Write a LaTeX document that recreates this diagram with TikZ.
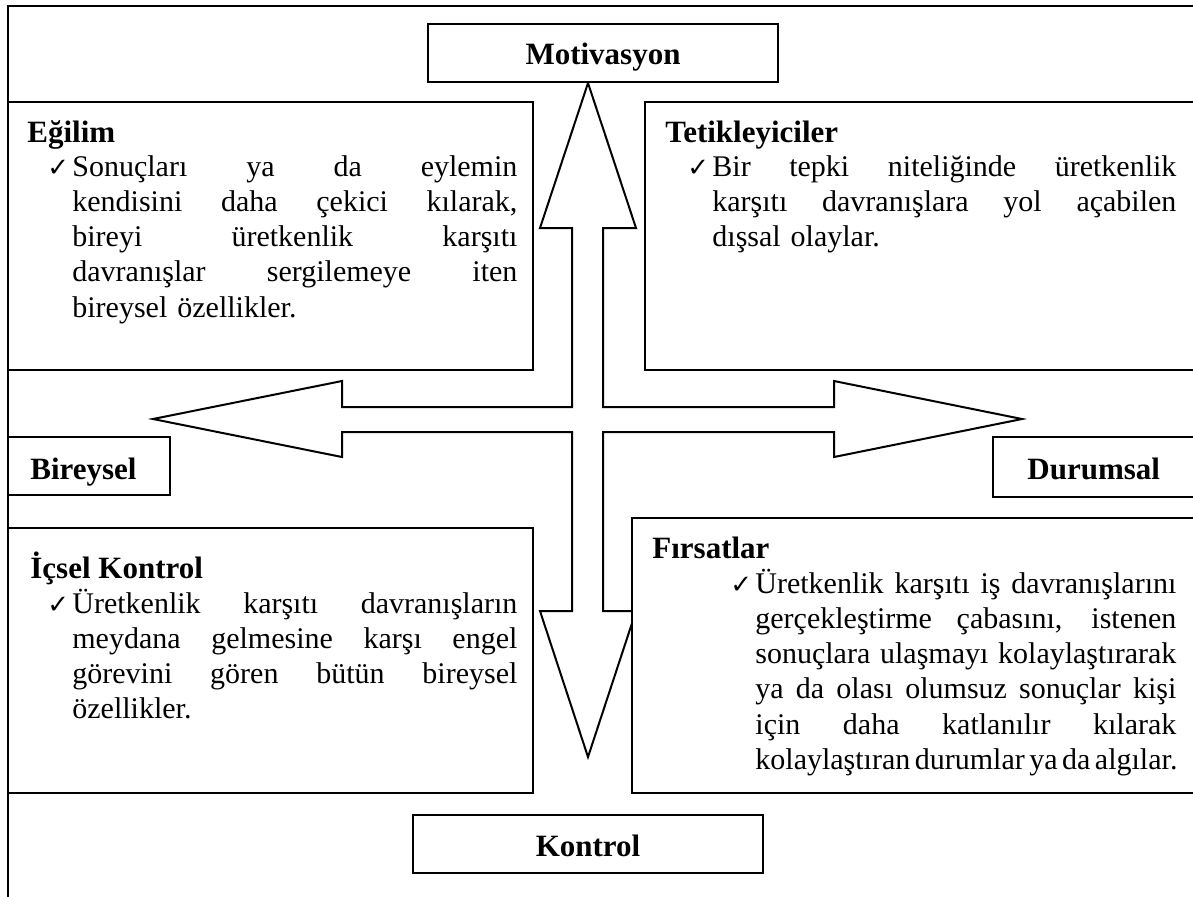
\documentclass[tikz,border=0pt]{standalone}
\usepackage{fontspec}
\setmainfont{Liberation Serif}
\newfontfamily\symfont{DejaVu Sans}
\newcommand{\ck}{\leavevmode\llap{\makebox[12.5pt][l]{\symfont\fontsize{13}{13}\selectfont ✓}}}
\def\W{100pt}
\newcommand{\jl}[1]{\hbox to \W{\spaceskip=.25em plus 1fil\relax #1}}
\newcommand{\jt}[1]{\hbox to \W{\spaceskip=.15em plus 1fil\relax #1}}
\tikzset{
  frame/.style={draw, line width=1pt, fill=white},
  ttl/.style={font=\bfseries\fontsize{15.5}{17.6}\selectfont, anchor=base west, inner sep=0pt},
  body/.style={font=\fontsize{15}{17.625}\selectfont, anchor=base west, inner sep=0pt,
     execute at begin node={\parindent=0pt\hbadness=10000\hfuzz=20pt}},
  cross/.style={draw, line width=1pt, line join=miter}
}
\begin{document}
\begin{tikzpicture}[x=0.5pt,y=-0.5pt]
\useasboundingbox (0,0) rectangle (1193,896);
\clip (0,0) rectangle (1193,896);
% outer frame
\draw[line width=1pt] (8,6) rectangle (1205,905);
% cross of four arrows
\draw[cross] (588,83) -- (636,228) -- (603,228) -- (603,407) -- (834,407) -- (834,381)
  -- (1022,419) -- (834,457) -- (834,432) -- (603,432) -- (603,611) -- (636,611)
  -- (588,757) -- (540,611) -- (572,611) -- (572,432) -- (342,432) -- (342,457)
  -- (153,419) -- (342,381) -- (342,407) -- (572,407) -- (572,228) -- (540,228) -- cycle;
% boxes
\draw[frame] (428,24) rectangle (778,82) node[pos=0.5] (motbox) {};
\draw[frame] (413,815) rectangle (763,873) node[pos=0.5] (konbox) {};
\draw[frame] (8,437) rectangle (170,495) node[pos=0.5] (birbox) {};
\draw[frame] (993,437) rectangle (1205,497) node[pos=0.5] (durbox) {};
\draw[frame] (8,102) rectangle (533,370) node[pos=0.5] (egbox) {};
\draw[frame] (645,102) rectangle (1205,370) node[pos=0.5] (tetbox) {};
\draw[frame] (8,528) rectangle (533,793) node[pos=0.5] (icbox) {};
\draw[frame] (632,518) rectangle (1205,793) node[pos=0.5] (firbox) {};
% labels
\node[ttl, anchor=base] (mot) at (603,64) {Motivasyon};
\node[ttl, anchor=base] (kon) at (588,856) {Kontrol};
\node[ttl] (bir) at (30,479) {Bireysel};
\node[ttl] (dur) at (1027,479) {Durumsal};
% Egilim
\node[ttl] (egt) at (27,142) {Eğilim};
\node[body, text width=222.5pt] (egb) at (72,176) {\def\W{222.5pt}\ck\jl{Sonuçları ya da eylemin}
 \jl{kendisini daha çekici kılarak,} \jl{bireyi üretkenlik karşıtı}
 \jl{davranışlar sergilemeye iten} \hbox{bireysel özellikler.}};
% Tetikleyiciler
\node[ttl] (tett) at (665,142) {Tetikleyiciler};
\node[body, text width=232pt] (tetb) at (712,176) {\def\W{232pt}\ck\jl{Bir tepki niteliğinde üretkenlik}
 \jl{karşıtı davranışlara yol açabilen} \hbox{dışsal olaylar.}};
% Icsel Kontrol
\node[ttl] (ict) at (30,578) {İçsel Kontrol};
\node[body, text width=222.5pt] (icb) at (72,613) {\def\W{222.5pt}\ck\jl{Üretkenlik karşıtı davranışların}
 \jl{meydana gelmesine karşı engel} \jl{görevini gören bütün bireysel} \hbox{özellikler.}};
% Firsatlar
\node[ttl] (firt) at (652,558) {Fırsatlar};
\node[body, text width=210.5pt] (firb) at (755,593) {\def\W{210.5pt}\ck\jl{Üretkenlik karşıtı iş davranışlarını}
 \jl{gerçekleştirme çabasını, istenen} \jl{sonuçlara ulaşmayı kolaylaştırarak}
 \jl{ya da olası olumsuz sonuçlar kişi} \jl{için daha katlanılır kılarak}
 \jt{kolaylaştıran durumlar ya da algılar.}};
\end{tikzpicture}
\end{document}
